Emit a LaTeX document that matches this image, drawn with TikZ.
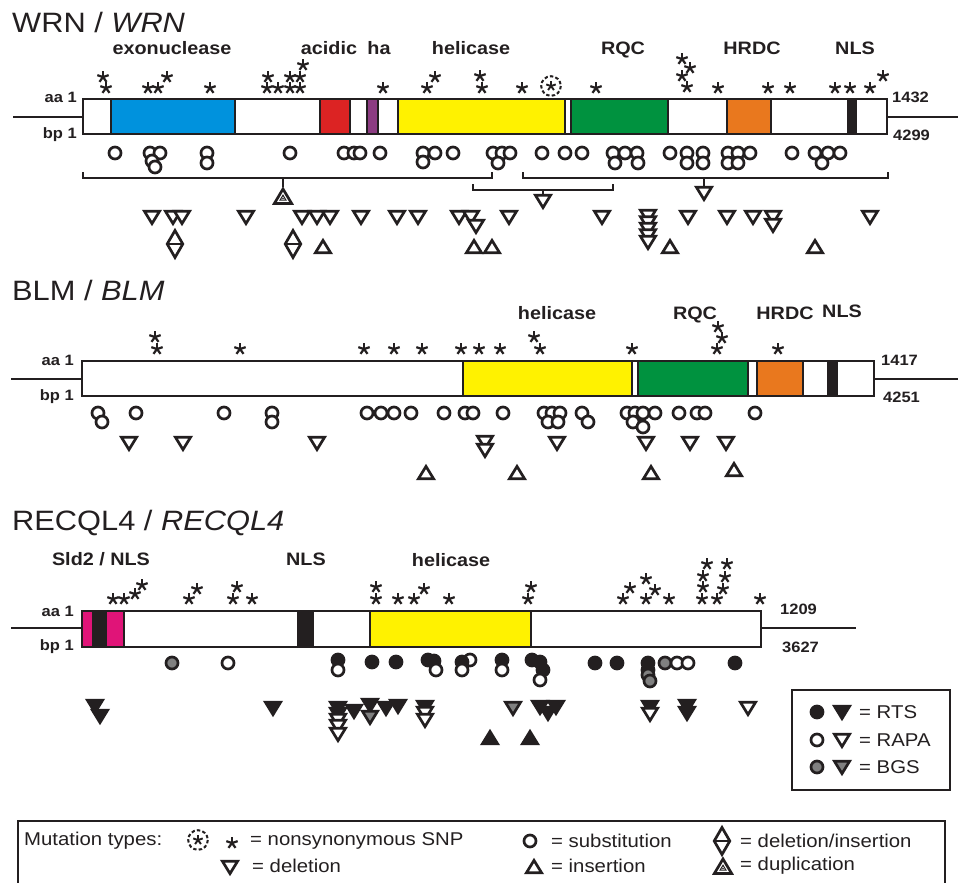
\documentclass[tikz,border=0pt]{standalone}
\usepackage{fontspec}
\setmainfont{Liberation Sans}[FakeStretch=1.1]
\definecolor{ink}{RGB}{35,31,32}
\definecolor{cblue}{RGB}{0,146,221}
\definecolor{cred}{RGB}{220,35,35}
\definecolor{cpurple}{RGB}{140,60,130}
\definecolor{cyellow}{RGB}{255,242,0}
\definecolor{cgreen}{RGB}{0,146,63}
\definecolor{corange}{RGB}{233,120,30}
\definecolor{cmagenta}{RGB}{224,20,120}
\definecolor{cgray}{RGB}{128,128,128}
\tikzset{
  barline/.style={draw=ink, line width=2.6pt},
  bracketline/.style={draw=ink, line width=2.8pt},
  symline/.style={draw=ink, line width=2.7pt, line join=miter},
  title/.style={text=ink, font=\fontsize{28}{30}\selectfont, inner sep=0pt},
  domlabel/.style={text=ink, font=\fontsize{18}{20}\selectfont\bfseries, inner sep=0pt},
  numlabel/.style={text=ink, font=\fontsize{15}{17}\selectfont\bfseries, inner sep=0pt},
  keytext/.style={text=ink, font=\fontsize{18.5}{20}\selectfont, inner sep=0pt},
  pics/sub/.style={code={\draw[symline, fill=white] (0,0) circle (6);}},
  pics/rts/.style={code={\draw[symline, fill=ink] (0,0) circle (6);}},
  pics/bgs/.style={code={\draw[symline, fill=cgray] (0,0) circle (6);}},
  pics/del/.style={code={\draw[symline, fill=white] (-7.6,-5.8) -- (7.6,-5.8) -- (0,6.6) -- cycle;}},
  pics/delf/.style={code={\draw[symline, fill=ink] (-7.6,-5.8) -- (7.6,-5.8) -- (0,6.6) -- cycle;}},
  pics/delg/.style={code={\draw[symline, fill=cgray] (-7.6,-5.8) -- (7.6,-5.8) -- (0,6.6) -- cycle;}},
  pics/ins/.style={code={\draw[symline, fill=white] (-7.6,5.8) -- (7.6,5.8) -- (0,-6.6) -- cycle;}},
  pics/insf/.style={code={\draw[symline, fill=ink] (-7.6,5.8) -- (7.6,5.8) -- (0,-6.6) -- cycle;}},
  pics/dup/.style={code={\draw[symline, fill=white] (-8.6,6.4) -- (8.6,6.4) -- (0,-8) -- cycle;
      \draw[ink, line width=1pt] (-3,3.2) -- (3,3.2) -- (0,-1.8) -- cycle;
      \fill[ink] (0,1.5) circle (0.8);}},
  pics/delins/.style={code={\draw[symline, fill=white] (0,-13.5) -- (7.8,0) -- (0,13.5) -- (-7.8,0) -- cycle;
      \draw[symline] (-7.8,0) -- (7.8,0);}},
  pics/ast/.style={code={\foreach \a in {270,342,54,126,198}
      \draw[ink, line width=2.2pt] (0,0) -- (\a:6);}},
  pics/dast/.style={code={\draw[ink, line width=2pt, dash pattern=on 3.4pt off 2.2pt] (0,0) circle (9.8);
      \foreach \a in {270,342,54,126,198} \draw[ink, line width=1.9pt] (0,0) -- (\a:5);}},
}
\begin{document}
\begin{tikzpicture}[x=1pt,y=-1pt]
\useasboundingbox (0,0) rectangle (958,883);
\fill[white] (0,0) rectangle (958,883);

% ================= WRN =================
\node[title, anchor=base west] (wrnTitle) at (12,33) {WRN / \textit{WRN}};
\node[domlabel, anchor=base] (wrnExo) at (172,55) {exonuclease};
\node[domlabel, anchor=base] (wrnAcid) at (329,55) {acidic};
\node[domlabel, anchor=base] (wrnHa) at (379,55) {ha};
\node[domlabel, anchor=base] (wrnHel) at (471,55) {helicase};
\node[domlabel, anchor=base] (wrnRqc) at (623,55) {RQC};
\node[domlabel, anchor=base] (wrnHrdc) at (752,55) {HRDC};
\node[domlabel, anchor=base] (wrnNls) at (855,55) {NLS};

\draw[barline] (13,117) -- (83,117) (887,117) -- (958,117);
\foreach \a/\b/\c in {83/111/white,111/235/cblue,235/320/white,320/350/cred,350/367/white,
  367/378/cpurple,378/398/white,398/565/cyellow,565/571/white,571/668/cgreen,668/727/white,
  727/771/corange,771/848/white,848/856/ink,856/887/white}
  \fill[\c] (\a,99) rectangle (\b,134);
\foreach \x in {111,235,320,350,367,378,398,565,571,668,727,771,848,856}
  \draw[barline] (\x,99) -- (\x,134);
\draw[barline] (83,99) rectangle (887,134);
\node[numlabel, anchor=east] (wrnAa) at (77,97) {aa\ 1};
\node[numlabel, anchor=east] (wrnBp) at (77,135) {bp\ 1};
\node[numlabel, anchor=west] (wrnAaEnd) at (892,97) {1432};
\node[numlabel, anchor=west] (wrnBpEnd) at (893,135) {4299};

\foreach \x/\y in {106/88,103/77,148/88,158/88,167/77,210/88,268/77,267/88,278/88,290/77,290/88,
  300/77,300/88,303/65,383/88,427/88,435/77,480/76,482/88,522/88,596/88,682/59,690/68,682/76,
  687/87,718/88,768/88,790/88,835/88,850/88,870/88,883/76}
  \pic at (\x,\y) {ast};
\pic at (551,86) {dast};

\foreach \x/\y in {115/153,150/153,160/153,152/161,155/167,207/153,207/163,290/153,344/153,
  354/153,360/153,380/153,423/153,423/162,435/153,453/153,493/153,502/153,510/153,498/163,
  542/153,565/153,582/153,613/153,625/153,637/153,615/163,638/163,670/153,687/153,703/153,
  687/163,703/163,728/153,738/153,728/163,738/163,750/153,792/153,815/153,828/153,822/163,840/153}
  \pic at (\x,\y) {sub};

% brackets grouping mutations
\coordinate (b1L) at (83,172); \coordinate (b1R) at (492,172);
\coordinate (b2L) at (523,172); \coordinate (b2R) at (888,172);
\coordinate (b3L) at (473,184); \coordinate (b3R) at (613,184);
\draw[bracketline] (b1L) -- (83,178) -- (492,178) -- (b1R);
\draw[bracketline] (b2L) -- (523,178) -- (888,178) -- (b2R);
\draw[bracketline] (b3L) -- (473,190) -- (613,190) -- (b3R);
\draw[bracketline] (283,178) -- (283,187);
\draw[bracketline] (704,178) -- (704,186);
\draw[bracketline] (543,190) -- (543,194);
\pic at (283,197) {dup};
\pic at (704,193) {del};
\pic at (543,201) {del};

\foreach \x/\y in {152/217,173/217,182/217,246/217,302/217,317/217,330/217,361/217,397/217,
  418/217,459/217,471/217,476/226,509/217,602/217,648/216,648/222.5,648/229,648/235.5,648/242,
  688/217,727/217,753/217,773/217,773/225,870/217}
  \pic at (\x,\y) {del};
\foreach \x in {323,474,492,670,815}
  \pic at (\x,247) {ins};
\pic at (175,244) {delins};
\pic at (293,244) {delins};

% ================= BLM =================
\node[title, anchor=base west] (blmTitle) at (12,300) {BLM / \textit{BLM}};
\node[domlabel, anchor=base] (blmHel) at (557,319) {helicase};
\node[domlabel, anchor=base] (blmRqc) at (695,319) {RQC};
\node[domlabel, anchor=base] (blmHrdc) at (785,319) {HRDC};
\node[domlabel, anchor=base] (blmNls) at (842,317) {NLS};

\draw[barline] (11,379) -- (82,379) (874,379) -- (958,379);
\foreach \a/\b/\c in {82/463/white,463/632/cyellow,632/638/white,638/748/cgreen,748/757/white,
  757/803/corange,803/828/white,828/837/ink,837/874/white}
  \fill[\c] (\a,361) rectangle (\b,396);
\foreach \x in {463,632,638,748,757,803,828,837}
  \draw[barline] (\x,361) -- (\x,396);
\draw[barline] (82,361) rectangle (874,396);
\node[numlabel, anchor=east] (blmAa) at (74,360) {aa\ 1};
\node[numlabel, anchor=east] (blmBp) at (74,397) {bp\ 1};
\node[numlabel, anchor=west] (blmAaEnd) at (881,360) {1417};
\node[numlabel, anchor=west] (blmBpEnd) at (883,397) {4251};

\foreach \x/\y in {157/349,155/337,240/349,364/349,394/349,422/349,461/349,479/349,500/349,
  540/349,534/337,632/349,717/349,722/338,718/327,778/349}
  \pic at (\x,\y) {ast};

\foreach \x/\y in {98/413,102/422,136/413,224/413,272/413,272/422,367/413,381/413,394/413,
  411/413,444/413,465/413,473/413,503/413,544/413,552/413,560/413,548/422,558/422,582/413,
  588/422,627/413,635/413,643/413,655/413,633/422,643/427,679/413,697/413,705/413,755/413}
  \pic at (\x,\y) {sub};

\foreach \x/\y in {129/443,183/443,317/443,485/442,485/450,557/443,646/443,690/443,726/443}
  \pic at (\x,\y) {del};
\foreach \x/\y in {426/473,517/473,651/473,734/470}
  \pic at (\x,\y) {ins};

% ================= RECQL4 =================
\node[title, anchor=base west] (recTitle) at (12,530) {RECQL4 / \textit{RECQL4}};
\node[domlabel, anchor=base] (recSld) at (101,565) {Sld2 / NLS};
\node[domlabel, anchor=base] (recNls) at (306,565) {NLS};
\node[domlabel, anchor=base] (recHel) at (451,566) {helicase};

\draw[barline] (11,628) -- (82,628) (761,628) -- (856,628);
\foreach \a/\b/\c in {82/93/cmagenta,93/106/ink,106/124/cmagenta,124/298/white,298/313/ink,
  313/370/white,370/531/cyellow,531/761/white}
  \fill[\c] (\a,611) rectangle (\b,647);
\foreach \x in {93,106,124,298,313,370,531}
  \draw[barline] (\x,611) -- (\x,647);
\draw[barline] (82,611) rectangle (761,647);
\node[numlabel, anchor=east] (recAa) at (74,611) {aa\ 1};
\node[numlabel, anchor=east] (recBp) at (74,647) {bp\ 1};
\node[numlabel, anchor=west] (recAaEnd) at (780,609) {1209};
\node[numlabel, anchor=west] (recBpEnd) at (782,647) {3627};

\foreach \x/\y in {113/599,124/599,135/594,142/585,189/599,197/589,233/599,237/587,252/599,
  376/599,376/587,398/599,414/599,424/589,449/599,528/599,531/587,623/599,630/588,646/599,
  646/579,655/590,669/599,702/599,703/587,703/576,707/564,717/599,723/589,725/577,727/564,760/599}
  \pic at (\x,\y) {ast};

\pic at (172,663) {bgs};
\pic at (228,663) {sub};
\pic at (338,660) {rts}; \pic at (338,670) {sub};
\pic at (372,662) {rts}; \pic at (396,662) {rts};
\pic at (428,660) {rts}; \pic at (434,661) {rts}; \pic at (436,670) {sub};
\pic at (470,660) {sub}; \pic at (462,662) {rts}; \pic at (462,670) {sub};
\pic at (502,660) {rts}; \pic at (502,670) {sub};
\pic at (532,660) {rts}; \pic at (540,662) {rts}; \pic at (543,670) {rts}; \pic at (540,680) {sub};
\pic at (595,663) {rts}; \pic at (617,663) {rts};
\pic at (648,663) {rts}; \pic at (648,670) {rts}; \pic at (648,675) {bgs}; \pic at (650,681) {bgs};
\pic at (665,663) {bgs}; \pic at (677,663) {sub}; \pic at (688,663) {sub};
\pic at (735,663) {rts};

\pic at (95,706) {delf}; \pic at (100,716) {delf};
\pic at (273,708) {delf};
\pic at (338,708) {delf}; \pic at (338,714) {delf};
\pic at (338,720) {del}; \pic at (338,726) {del}; \pic at (338,734) {del};
\pic at (354,711) {delf};
\pic at (370,705) {delf}; \pic at (370,717) {delg};
\pic at (386,708) {delf}; \pic at (398,706) {delf};
\pic at (425,707) {delf}; \pic at (425,713) {del}; \pic at (425,720) {del};
\pic at (513,708) {delg};
\pic at (540,707) {delf}; \pic at (556,707) {delf}; \pic at (548,713) {delf};
\pic at (650,707) {delf}; \pic at (650,714) {del};
\pic at (687,706) {delf}; \pic at (687,713) {delf};
\pic at (748,708) {del};
\pic at (490,738) {insf}; \pic at (530,738) {insf};

% ================= keys =================
\draw[ink, line width=2.6pt] (792,690) rectangle (950,790);
\pic at (817,712) {rts}; \pic at (842,712) {delf};
\node[keytext, anchor=west] (keyRts) at (859,712) {= RTS};
\pic at (817,740) {sub}; \pic at (842,740) {del};
\node[keytext, anchor=west] (keyRapa) at (859,740) {= RAPA};
\pic at (817,767) {bgs}; \pic at (842,767) {delg};
\node[keytext, anchor=west] (keyBgs) at (859,767) {= BGS};

\draw[ink, line width=2.6pt] (18,890) -- (18,821) -- (945,821) -- (945,890);
\node[keytext, anchor=west] (keyTypes) at (24,841) {Mutation types:};
\pic at (198,840) {dast};
\pic at (232,843) {ast};
\node[keytext, anchor=west] (keySnp) at (250,841) {= nonsynonymous SNP};
\pic at (230,867) {del};
\node[keytext, anchor=west] (keyDel) at (252,866) {= deletion};
\pic at (530,841) {sub};
\node[keytext, anchor=west] (keySub) at (551,841) {= substitution};
\pic at (534,867) {ins};
\node[keytext, anchor=west] (keyIns) at (551,866) {= insertion};
\pic at (722,841) {delins};
\node[keytext, anchor=west] (keyDelIns) at (740,841) {= deletion/insertion};
\pic at (723,867) {dup};
\node[keytext, anchor=west] (keyDup) at (740,866) {= duplication};
\end{tikzpicture}
\end{document}
